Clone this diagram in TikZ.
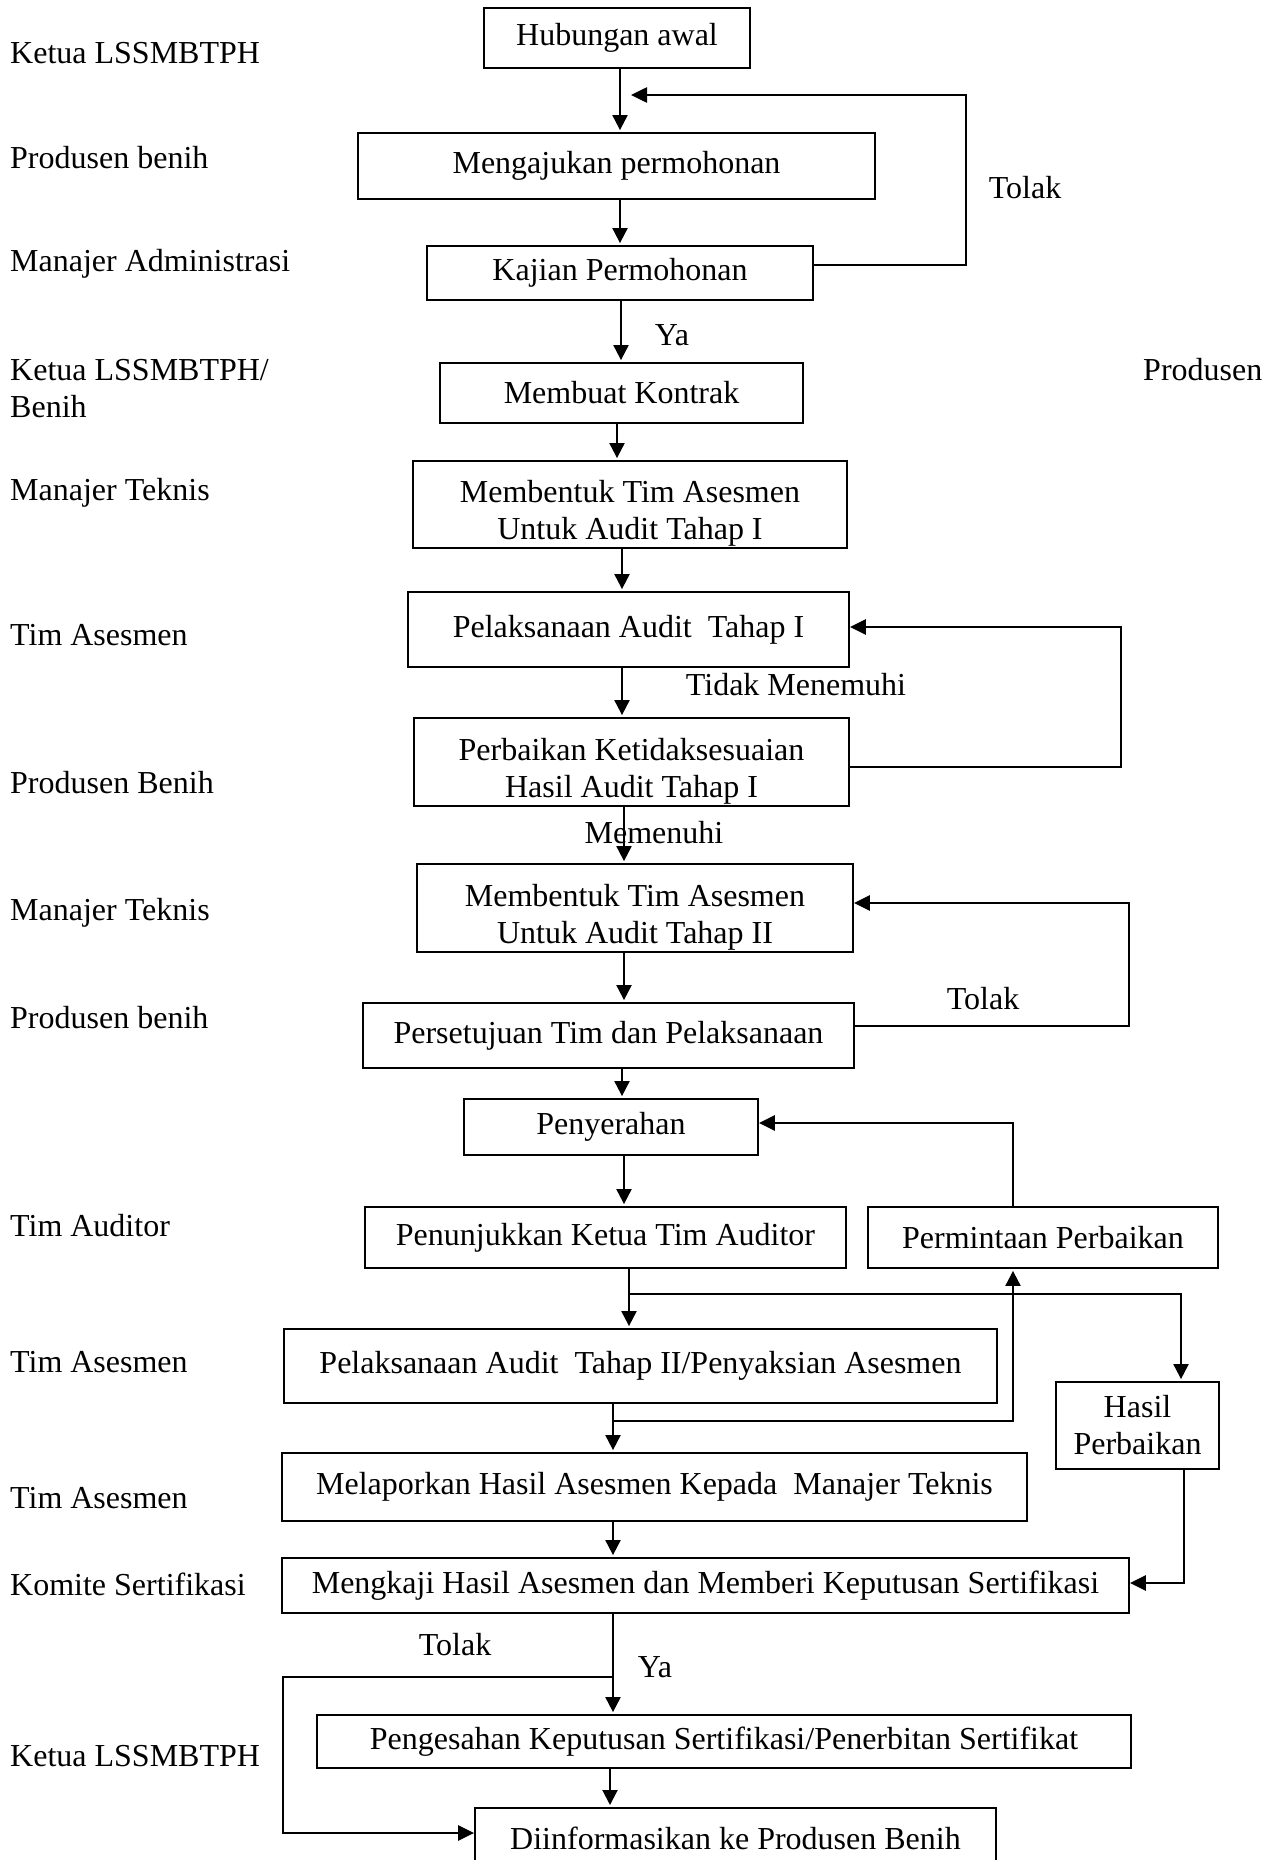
\documentclass[tikz,border=0pt]{standalone}
\usepackage{fontspec}
\setmainfont{Liberation Serif}
\usetikzlibrary{arrows.meta}
\newcommand{\lowstrut}{\rule{0pt}{40pt}}
\begin{document}
\begin{tikzpicture}[x=1pt,y=-1pt,
  font=\fontsize{32}{37}\selectfont,
  box/.style={draw, line width=1.8pt, inner sep=0pt, align=center},
  sz/.style 2 args={minimum width=#1pt, minimum height=#2pt},
  lab/.style={anchor=west, inner sep=0pt, align=left},
  txt/.style={inner sep=0pt},
  arr/.style={-{Triangle[length=15pt,width=15pt]}, line width=2pt, shorten >=2pt},
  farr/.style={-{Triangle[length=16pt,width=15pt]}, line width=2.6pt}]
\useasboundingbox (0,0) rectangle (1269,1860);

% left role labels
\node[lab] (r1) at (10,53) {Ketua LSSMBTPH};
\node[lab] (r2) at (10,158) {Produsen benih};
\node[lab] (r3) at (10,264) {Manajer Administrasi};
\node[lab] (r4) at (10,389) {Ketua LSSMBTPH/\\Benih};
\node[lab] (r5) at (10,493) {Manajer Teknis};
\node[lab] (r6) at (10,635) {Tim Asesmen};
\node[lab] (r7) at (10,783) {Produsen Benih};
\node[lab] (r8) at (10,913) {Manajer Teknis};
\node[lab] (r9) at (10,1018) {Produsen benih};
\node[lab] (r10) at (10,1226) {Tim Auditor};
\node[lab] (r11) at (10,1362) {Tim Asesmen};
\node[lab] (r12) at (10,1498) {Tim Asesmen};
\node[lab] (r13) at (10,1584) {Komite Sertifikasi};
\node[lab] (r14) at (10,1756) {Ketua LSSMBTPH};
\node[lab] (r15) at (1143,370) {Produsen};

% boxes
\node[box, sz={266}{60}] (hub) at (617,38) {Hubungan awal};
\node[box, sz={517}{66}] (meng) at (616.5,166) {Mengajukan permohonan};
\node[box, sz={386}{54}] (kaj) at (620,273) {Kajian Permohonan};
\node[box, sz={363}{60}] (kon) at (621.5,393) {Membuat Kontrak};
\node[box, sz={434}{87}] (bt1) at (630,504.5) {\lowstrut Membentuk Tim Asesmen\\Untuk Audit Tahap I};
\node[box, sz={441}{75}] (pl1) at (628.5,629.5) {Pelaksanaan Audit\ \ Tahap I};
\node[box, sz={435}{88}] (perb) at (631.5,762) {\lowstrut Perbaikan Ketidaksesuaian\\Hasil Audit Tahap I};
\node[box, sz={436}{88}] (bt2) at (635,908) {\lowstrut Membentuk Tim Asesmen\\Untuk Audit Tahap II};
\node[box, sz={491}{65}] (setu) at (608.5,1035.5) {Persetujuan Tim dan Pelaksanaan};
\node[box, sz={294}{56}] (serah) at (611,1127) {Penyerahan};
\node[box, sz={481}{61}] (tunj) at (605.5,1237.5) {Penunjukkan Ketua Tim Auditor};
\node[box, sz={350}{61}] (minta) at (1043,1237.5) {Permintaan Perbaikan};
\node[box, sz={713}{74}] (pl2) at (640.5,1366) {Pelaksanaan Audit\ \ Tahap II/Penyaksian Asesmen};
\node[box, sz={163}{87}] (hasil) at (1137.5,1425.5) {Hasil\\Perbaikan};
\node[box, sz={745}{68}] (lap) at (654.5,1487) {Melaporkan Hasil Asesmen Kepada\ \ Manajer Teknis};
\node[box, sz={847}{55}] (kaji) at (705.5,1585.5) {Mengkaji Hasil Asesmen dan Memberi Keputusan Sertifikasi};
\node[box, sz={814}{53}] (sah) at (724,1741.5) {Pengesahan Keputusan Sertifikasi/Penerbitan Sertifikat};
\node[box, sz={521}{60}, anchor=north] (info) at (735.5,1807) {Diinformasikan ke Produsen Benih};

% connector labels
\node[txt] (t1) at (1025,188) {Tolak};
\node[txt] (ya1) at (672,335) {Ya};
\node[txt] (tm) at (796,685) {Tidak Menemuhi};
\node[txt] (mm) at (654,833) {Memenuhi};
\node[txt] (t2) at (983,999) {Tolak};
\node[txt] (t3) at (455,1645) {Tolak};
\node[txt] (ya2) at (655,1667) {Ya};

% junction coordinates
\coordinate (j1) at (631,95);
\coordinate (jb1) at (629,1294);
\coordinate (jb2) at (613,1421);
\coordinate (jb3) at (613,1677);

% connectors
\draw[arr] (620,0 |- hub.south) -- (620,0 |- meng.north);
\draw[farr] (kaj.east |- 0,265) -- (966,265) -- (966,95) -- (j1);
\draw[arr] (620,0 |- meng.south) -- (620,0 |- kaj.north);
\draw[arr] (621,0 |- kaj.south) -- (621,0 |- kon.north);
\draw[arr] (617,0 |- kon.south) -- (617,0 |- bt1.north);
\draw[arr] (622,0 |- bt1.south) -- (622,0 |- pl1.north);
\draw[arr] (622,0 |- pl1.south) -- (622,0 |- perb.north);
\draw[farr] (perb.east |- 0,767) -- (1121,767) -- (1121,627) -- (pl1.east |- 0,627);
\draw[arr] (624,0 |- perb.south) -- (624,0 |- bt2.north);
\draw[arr] (624,0 |- bt2.south) -- (624,0 |- setu.north);
\draw[farr] (setu.east |- 0,1026) -- (1129,1026) -- (1129,903) -- (bt2.east |- 0,903);
\draw[arr] (622,0 |- setu.south) -- (622,0 |- serah.north);
\draw[farr] (1013,0 |- minta.north) -- (1013,1123) -- (serah.east |- 0,1123);
\draw[arr] (624,0 |- serah.south) -- (624,0 |- tunj.north);
\draw[arr] (629,0 |- tunj.south) -- (629,0 |- pl2.north);
\draw[arr] (jb1) -- (1181,1294) -- (1181,0 |- hasil.north);
\draw[arr] (613,0 |- pl2.south) -- (613,0 |- lap.north);
\draw[arr] (jb2) -- (1013,1421) -- (1013,0 |- minta.south);
\draw[farr] (1184,0 |- hasil.south) -- (1184,1583) -- (kaji.east |- 0,1583);
\draw[arr] (613,0 |- lap.south) -- (613,0 |- kaji.north);
\draw[arr] (613,0 |- kaji.south) -- (613,0 |- sah.north);
\draw[farr] (jb3) -- (283,1677) -- (283,1833) -- (info.west |- 0,1833);
\draw[arr] (610,0 |- sah.south) -- (610,0 |- info.north);
\end{tikzpicture}
\end{document}
